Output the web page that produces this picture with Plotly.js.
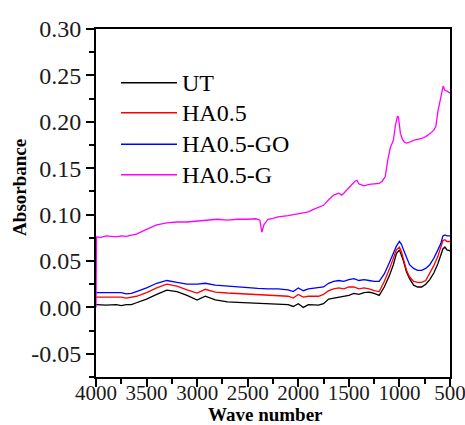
<!DOCTYPE html>
<html>
<head>
<meta charset="utf-8">
<script src="https://cdn.plot.ly/plotly-3.0.1.min.js"></script>
<style>html,body{margin:0;padding:0;background:#fff;}#chart{width:465px;height:425px;}</style>
</head>
<body>
<div id="chart"></div>
<script>
// Shared wavenumber grid for UT, HA0.5, HA0.5-GO
const wave = [4000,3900,3800,3750,3700,3650,3600,3500,3400,3300,3200,3100,3000,2920,2820,2700,2600,2500,2400,2300,2200,2100,2050,2000,1950,1900,1800,1750,1700,1650,1600,1550,1500,1450,1400,1350,1300,1250,1200,1150,1100,1060,1030,1000,980,960,930,900,860,820,780,740,700,660,620,590,570,550,530,500];
const absUT = [0.003,0.0025,0.003,0.002,0.003,0.003,0.005,0.009,0.014,0.0186,0.017,0.013,0.008,0.012,0.008,0.006,0.0055,0.005,0.0048,0.0045,0.0043,0.003,0.001,0.004,0.000,0.003,0.0025,0.004,0.009,0.010,0.011,0.0115,0.013,0.015,0.014,0.016,0.0165,0.015,0.013,0.022,0.034,0.046,0.058,0.062,0.057,0.050,0.038,0.031,0.024,0.022,0.022,0.025,0.030,0.037,0.047,0.056,0.063,0.065,0.062,0.061];
const absHA = [0.011,0.011,0.0105,0.011,0.010,0.011,0.012,0.016,0.021,0.025,0.023,0.019,0.0155,0.0195,0.0165,0.0155,0.015,0.0145,0.014,0.0135,0.013,0.012,0.010,0.014,0.011,0.012,0.012,0.014,0.018,0.020,0.021,0.020,0.022,0.022,0.020,0.021,0.020,0.018,0.017,0.028,0.041,0.052,0.062,0.065,0.060,0.052,0.040,0.033,0.028,0.027,0.027,0.029,0.037,0.045,0.055,0.064,0.072,0.073,0.071,0.071];
const absGO = [0.016,0.016,0.016,0.016,0.0145,0.015,0.017,0.021,0.026,0.029,0.027,0.025,0.025,0.026,0.024,0.023,0.0216,0.021,0.0205,0.020,0.020,0.019,0.017,0.021,0.018,0.020,0.021,0.022,0.026,0.028,0.029,0.028,0.030,0.031,0.029,0.030,0.029,0.028,0.028,0.036,0.048,0.058,0.066,0.071,0.068,0.062,0.053,0.046,0.042,0.040,0.040,0.042,0.046,0.053,0.062,0.069,0.077,0.078,0.077,0.077];
// HA0.5-G has its own grid
const waveG = [4000,3995,3950,3900,3850,3800,3750,3700,3650,3600,3500,3400,3300,3200,3100,3000,2900,2800,2700,2600,2500,2420,2380,2360,2340,2300,2250,2200,2100,2000,1900,1850,1800,1750,1700,1650,1600,1570,1550,1500,1470,1440,1420,1400,1375,1350,1300,1250,1200,1170,1140,1115,1090,1060,1040,1020,1010,990,970,950,930,900,860,820,780,740,700,660,640,620,600,580,568,550,530,500];
const absG = [0.0,0.076,0.0755,0.077,0.0765,0.076,0.077,0.0765,0.078,0.079,0.084,0.089,0.091,0.092,0.092,0.093,0.094,0.095,0.094,0.095,0.095,0.0955,0.094,0.081,0.089,0.095,0.096,0.0975,0.099,0.101,0.103,0.1056,0.108,0.110,0.116,0.121,0.123,0.121,0.123,0.129,0.132,0.136,0.137,0.133,0.132,0.131,0.1325,0.133,0.1336,0.136,0.141,0.159,0.172,0.180,0.196,0.206,0.205,0.1875,0.181,0.178,0.177,0.178,0.180,0.181,0.182,0.184,0.187,0.191,0.195,0.211,0.220,0.232,0.2385,0.234,0.233,0.231];

const names = ['UT','HA0.5','HA0.5-GO','HA0.5-G'];
const colors = ['#000000','#ff0000','#0000ff','#ff00ff'];
const xTickVals = [4000,3500,3000,2500,2000,1500,1000,500];
const xTickText = ['4000','3500','3000','2500','2000','1500','1000','500'];
const yTickVals = [-0.05,0,0.05,0.10,0.15,0.20,0.25,0.30];
const yTickText = ['-0.05','0.00','0.05','0.10','0.15','0.20','0.25','0.30'];
const xs = [wave, wave, wave, waveG];
const ys = [absUT, absHA, absGO, absG];

const serif = 'Liberation Serif';
const traces = names.map((n,i)=>({
  x: xs[i], y: ys[i], name: n, type: 'scatter', mode: 'lines',
  line: {color: colors[i], width: 1.3}, showlegend: false
}));

// manual legend (long line samples like the original)
const legY = [0.8457, 0.7595, 0.6687, 0.5813];
const shapes = names.map((n,i)=>({
  type:'line', xref:'paper', yref:'paper', x0:0.0706, x1:0.2288, y0:legY[i], y1:legY[i],
  line:{color:colors[i], width:1.5}
}));
const annotations = names.map((n,i)=>({
  xref:'paper', yref:'paper', x:0.238, y:legY[i], xanchor:'left', yanchor:'middle',
  text:n, showarrow:false, font:{family:serif, size:24, color:'#000'}
}));
annotations.push({
  xref:'paper', yref:'paper', x:-0.215, y:0.546, xanchor:'center', yanchor:'middle',
  text:'<b>Absorbance</b>', textangle:-90, showarrow:false, font:{family:serif, size:19, color:'#000'}
});
annotations.push({
  xref:'paper', yref:'paper', x:0.48, y:-0.0747, xanchor:'center', yanchor:'top', borderpad:0,
  text:'<b>Wave number</b>', showarrow:false, font:{family:serif, size:19, color:'#000'}
});

const layout = {
  width:465, height:425,
  margin:{l:96, r:15, t:29, b:48},
  paper_bgcolor:'#fff', plot_bgcolor:'#fff',
  font:{family:serif, size:22, color:'#1a1a1a'},
  showlegend:false,
  xaxis:{
    range:[4000,500], tickmode:'array', tickvals:xTickVals, ticktext:xTickText,
    showgrid:false, zeroline:false, ticklabeloverflow:'allow', ticklabelstandoff:-12,
    showline:true, mirror:true, linecolor:'#000', linewidth:2,
    ticks:'outside', ticklen:8, tickwidth:2, tickcolor:'#000',
    minor:{dtick:250, tick0:500, ticks:'outside', ticklen:5, tickwidth:2, tickcolor:'#000'},
    tickfont:{family:serif, size:21, color:'#1a1a1a'}
  },
  yaxis:{
    range:[-0.075,0.30], tickmode:'array', tickvals:yTickVals, ticktext:yTickText,
    showgrid:false, zeroline:false,
    showline:true, mirror:true, linecolor:'#000', linewidth:2,
    ticks:'outside', ticklen:8, tickwidth:2, tickcolor:'#000',
    minor:{dtick:0.025, tick0:0, ticks:'outside', ticklen:5, tickwidth:2, tickcolor:'#000'},
    tickfont:{family:serif, size:24, color:'#1a1a1a'}
  },
  shapes: shapes,
  annotations: annotations
};
Plotly.newPlot('chart', traces, layout, {displayModeBar:false, staticPlot:true});
</script>
</body>
</html>
